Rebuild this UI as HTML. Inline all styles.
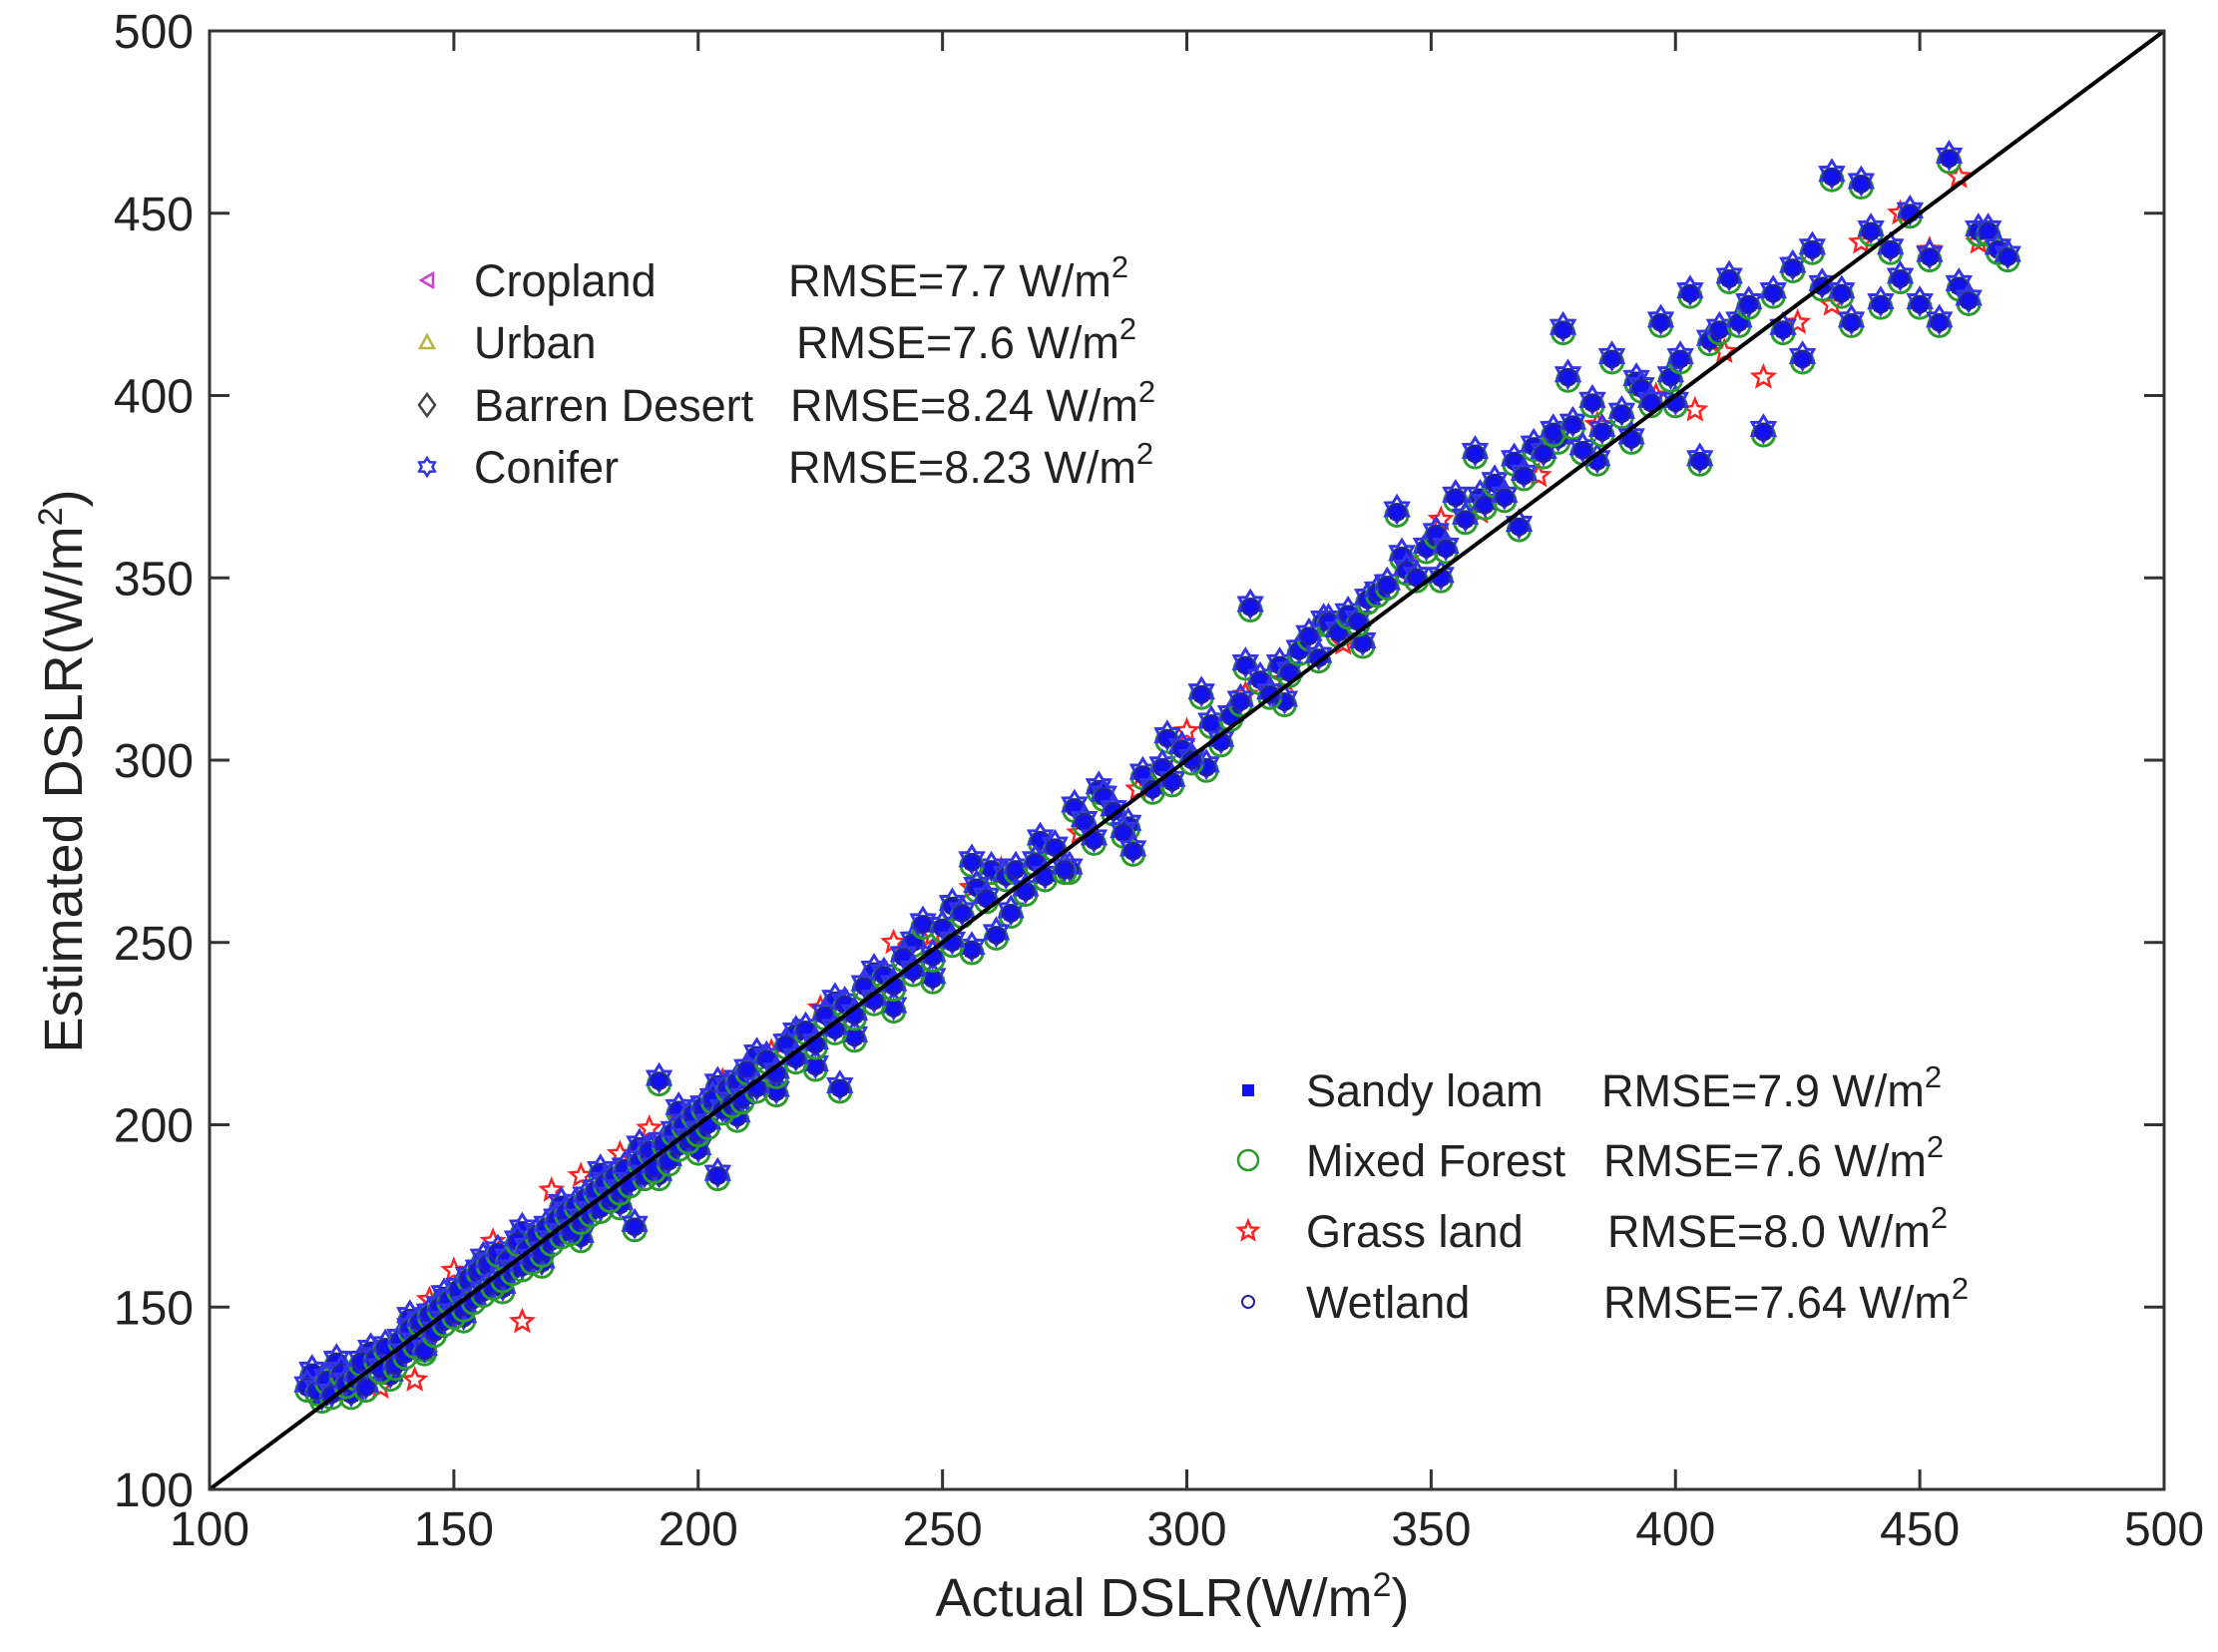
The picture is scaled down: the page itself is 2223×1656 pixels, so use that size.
<!DOCTYPE html>
<html><head><meta charset="utf-8"><style>
html,body{margin:0;padding:0;background:#fff;}
svg text{font-family:"Liberation Sans",Arial,sans-serif;fill:#222;}
</style></head><body>
<svg id="chart" width="2223" height="1651" viewBox="0 0 2223 1651" xmlns="http://www.w3.org/2000/svg">
<rect width="2223" height="1651" fill="#fff"/>
<g id="marks"></g>
<g id="axes"></g>
<g id="legend1"></g>
<g id="legend2"></g>
</svg>
<script>
const xTicks=[100,150,200,250,300,350,400,450,500];
const yTicks=[100,150,200,250,300,350,400,450,500];
const actual=[120,122,124,125,127,128,130,131,132,134,135,136,138,139,140,141,142,143,144,145,146,147,148,149,150,151,152,153,154,155,156,157,158,159,160,161,162,163,164,165,166,167,168,169,170,171,172,173,174,175,176,177,178,179,180,181,182,183,184,185,186,187,188,189,190,191,192,193,194,195,196,197,198,199,200,201,202,203,204,205,206,207,208,209,210,212,214,216,218,220,222,224,226,228,229,230,232,234,236,238,240,242,244,246,248,250,252,254,256,257,259,261,263,265,267,269,271,273,275,277,279,281,283,285,287,289,291,293,295,297,299,301,303,305,307,309,311,313,315,317,319,321,323,325,327,329,331,333,335,337,339,341,343,345,347,349,351,353,355,357,359,361,363,365,367,369,371,373,375,377,378,379,381,383,385,387,389,391,393,395,397,399,401,403,405,407,409,411,413,415,418,420,422,424,426,428,430,432,434,436,438,440,442,444,446,448,450,452,454,456,458,460,462,464,466,468];
const estimated=[128,127,130,126,132,129,131,135,128,136,133,139,134,141,137,144,140,146,138,148,143,150,146,152,148,155,150,158,152,160,154,162,156,165,158,163,160,168,161,166,163,170,165,172,168,174,170,176,171,178,174,180,176,182,177,184,180,186,182,188,184,172,190,186,193,188,212,195,190,198,194,200,196,203,198,205,200,207,186,204,210,206,212,207,215,210,218,214,222,218,226,222,230,226,210,233,230,238,234,241,238,246,242,255,246,254,250,258,272,265,262,252,268,270,264,272,268,276,270,287,283,278,290,286,280,275,296,292,298,294,303,300,318,310,305,312,316,342,322,318,326,324,330,334,328,338,335,340,338,344,346,348,368,352,350,358,362,358,372,366,384,370,376,372,382,378,386,384,390,418,405,392,385,398,390,410,395,388,402,398,420,405,410,428,382,415,418,432,420,425,390,428,418,435,410,440,430,460,428,420,458,445,425,440,432,450,425,438,420,465,430,426,445,445,440,438];
const actual2=[121,123,126,129,133,137,141,144,148,152,156,160,164,168,172,176,180,184,188,192,196,200,204,208,212,216,220,224,228,232,236,240,244,248,252,256,260,264,270,276,282,288,296,304,312,320,328,336,344,352,360,368,376,384,392,400];
const estimated2=[132,125,135,126,138,131,147,139,153,147,163,155,171,162,178,169,187,178,194,186,204,193,211,202,219,209,225,216,234,224,242,232,250,240,260,248,270,258,278,270,292,282,306,298,326,316,338,332,356,350,372,364,388,382,404,398];
const grassActual=[135,142,145,150,158,164,170,176,184,190,196,205,215,225,240,248,256,262,278,290,300,312,320,332,345,352,360,372,384,396,404,410,418,425,432,438,446,452,458,462];
const grassEstimated=[128,130,152,160,168,146,182,186,192,199,202,212,220,232,250,252,265,270,280,292,308,318,322,332,355,366,368,378,392,400,396,412,405,420,425,442,450,440,460,442];

const L=210,R=2169,T=31,B=1493;
const xs=v=>L+(v-100)/400*(R-L);
const ys=v=>B-(v-100)/400*(B-T);
const NS='http://www.w3.org/2000/svg';
function mk(tag,attrs,parent){const e=document.createElementNS(NS,tag);for(const k in attrs)e.setAttribute(k,attrs[k]);parent.appendChild(e);return e;}
function star(cx,cy,r){let p=[];for(let i=0;i<10;i++){const a=-Math.PI/2+i*Math.PI/5;const rr=i%2?r*0.45:r;p.push((cx+rr*Math.cos(a)).toFixed(1)+','+(cy+rr*Math.sin(a)).toFixed(1));}return p.join(' ');}
function hexa(cx,cy,r){let p=[];for(let i=0;i<12;i++){const a=-Math.PI/2+i*Math.PI/6;const rr=i%2?r*0.6:r;p.push((cx+rr*Math.cos(a)).toFixed(1)+','+(cy+rr*Math.sin(a)).toFixed(1));}return p.join(' ');}

const marks=document.getElementById('marks');
for(let i=0;i<grassActual.length;i++){
  const s=mk('polygon',{points:star(xs(grassActual[i]),ys(grassEstimated[i]),11),fill:'none',stroke:'#f22','stroke-width':2.5},marks);
  
  
}
function drawPoint(a,e){
  const x=xs(a),y=ys(e);
  const g=mk('g',{},marks);
  
  
  mk('circle',{cx:x,cy:y+3,r:11,fill:'none',stroke:'#2a9a2a','stroke-width':3},g);
  mk('polygon',{points:hexa(x,y-3,13),fill:'none',stroke:'#3333ee','stroke-width':3},g);
  mk('rect',{x:x-7,y:y-7,width:14,height:14,fill:'#1010f0'},g);
  mk('circle',{cx:x,cy:y,r:8,fill:'none',stroke:'#2020a0','stroke-width':2.5},g);
}
for(let i=0;i<actual2.length;i++) drawPoint(actual2[i],estimated2[i]);
for(let i=0;i<actual.length;i++) drawPoint(actual[i],estimated[i]);

const ax=document.getElementById('axes');
const dl=mk('line',{x1:L,y1:B,x2:R,y2:T,stroke:'#000','stroke-width':4},ax);


mk('rect',{x:L,y:T,width:R-L,height:B-T,fill:'none',stroke:'#333','stroke-width':3},ax);
xTicks.forEach(v=>{
  const x=xs(v);
  mk('line',{x1:x,y1:B,x2:x,y2:B-20,stroke:'#333','stroke-width':3},ax);
  mk('line',{x1:x,y1:T,x2:x,y2:T+20,stroke:'#333','stroke-width':3},ax);
  const t=mk('text',{x:x,y:B+56,'font-size':48,'text-anchor':'middle'},ax);t.textContent=v;
  
  
});
yTicks.forEach(v=>{
  const y=ys(v);
  mk('line',{x1:L,y1:y,x2:L+20,y2:y,stroke:'#333','stroke-width':3},ax);
  mk('line',{x1:R,y1:y,x2:R-20,y2:y,stroke:'#333','stroke-width':3},ax);
  const t=mk('text',{x:L-16,y:y+17,'font-size':48,'text-anchor':'end'},ax);t.textContent=v;
  
  
});
const xt=mk('text',{x:1175,y:1620,'font-size':54,'text-anchor':'middle'},ax);
xt.innerHTML='Actual DSLR(W/m<tspan dy="-20" font-size="34">2</tspan><tspan dy="20">)</tspan>';


const yt=mk('text',{x:0,y:0,'font-size':54,'text-anchor':'middle',transform:'translate(82,773) rotate(-90)'},ax);
yt.innerHTML='Estimated DSLR(W/m<tspan dy="-20" font-size="34">2</tspan><tspan dy="20">)</tspan>';



function legend(gid,rows,mx,tx,ys0){
  const g=document.getElementById(gid);
  rows.forEach((r,i)=>{
    const y=ys0[i];
    const e=mk('g',{},g);
    
    
    r.draw(e,mx,y);
    const t=mk('text',{x:tx,y:y+16,'font-size':45},e);t.textContent=r.name;
    const t2=mk('text',{x:r.rx,y:y+16,'font-size':45},e);
    t2.innerHTML=r.rmse+' W/m<tspan dy="-19" font-size="31">2</tspan>';
  });
}
legend('legend1',[
 {name:'Cropland',rmse:'RMSE=7.7 ',rx:790,draw:(g,x,y)=>mk('polygon',{points:`${x+6},${y-7} ${x-6},${y} ${x+6},${y+7}`,fill:'none',stroke:'#d040d0','stroke-width':2.5},g)},
 {name:'Urban',rmse:'RMSE=7.6 ',rx:798,draw:(g,x,y)=>mk('polygon',{points:`${x},${y-7} ${x-7},${y+6} ${x+7},${y+6}`,fill:'none',stroke:'#b8b840','stroke-width':2.5},g)},
 {name:'Barren Desert',rmse:'RMSE=8.24',rx:792,draw:(g,x,y)=>mk('polygon',{points:`${x},${y-11} ${x-8},${y} ${x},${y+11} ${x+8},${y}`,fill:'none',stroke:'#444','stroke-width':2.5},g)},
 {name:'Conifer',rmse:'RMSE=8.23',rx:790,draw:(g,x,y)=>mk('polygon',{points:hexa(x,y,9),fill:'none',stroke:'#3333ee','stroke-width':2.5},g)}
],428,475,[281,343,406,468]);
legend('legend2',[
 {name:'Sandy loam',rmse:'RMSE=7.9 ',rx:1605,draw:(g,x,y)=>mk('rect',{x:x-6,y:y-6,width:12,height:12,fill:'#1010f0'},g)},
 {name:'Mixed Forest',rmse:'RMSE=7.6 ',rx:1607,draw:(g,x,y)=>mk('circle',{cx:x,cy:y,r:10,fill:'none',stroke:'#2a9a2a','stroke-width':2.5},g)},
 {name:'Grass land',rmse:'RMSE=8.0',rx:1611,draw:(g,x,y)=>mk('polygon',{points:star(x,y,10),fill:'none',stroke:'#f22','stroke-width':2.5},g)},
 {name:'Wetland',rmse:'RMSE=7.64',rx:1607,draw:(g,x,y)=>mk('circle',{cx:x,cy:y,r:6,fill:'none',stroke:'#2020a0','stroke-width':2},g)}
],1251,1309,[1093,1163,1234,1305]);
</script>
</body></html>
